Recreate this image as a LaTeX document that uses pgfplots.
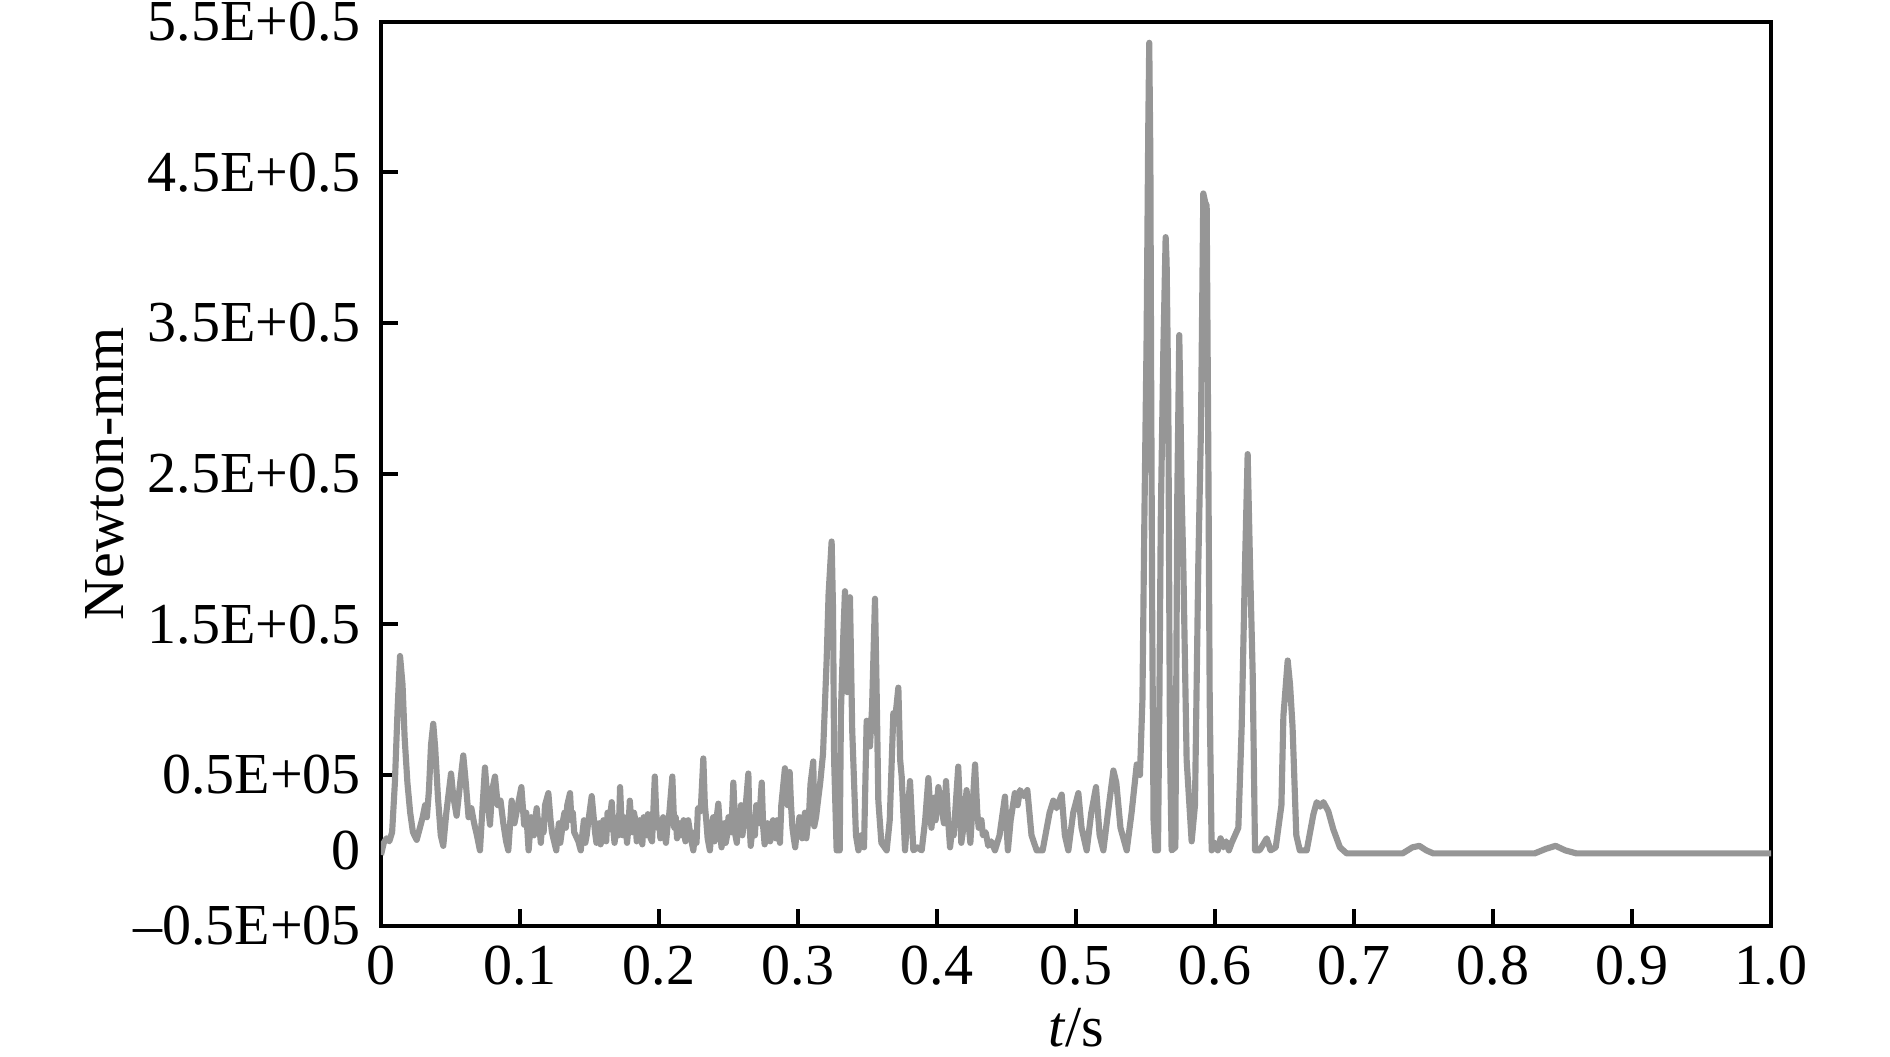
\documentclass[border=0pt]{standalone}
\usepackage{fontspec}
\setmainfont{Liberation Serif}
\usepackage{pgfplots}
\pgfplotsset{compat=1.18}

\definecolor{sig}{RGB}{150,150,150}

\begin{document}
\fontsize{16.5}{19}\selectfont
\begin{tikzpicture}
% page = 1890 x 1056 px at 0.01 cm per px, axis box starts at origin
\path[use as bounding box] (-3.81cm,-1.303cm) rectangle (15.09cm,9.257cm);
\begin{axis}[
  width=13.9cm, height=9.04cm, scale only axis,
  xmin=0, xmax=1, ymin=-0.5, ymax=5.5,
  axis line style={line width=1.1pt},
  tick style={line width=1.1pt, black},
  tick align=inside, tick pos=left,
  major tick length=0.17cm,
  xtick={0,0.1,0.2,0.3,0.4,0.5,0.6,0.7,0.8,0.9,1.0},
  xticklabels={0,0.1,0.2,0.3,0.4,0.5,0.6,0.7,0.8,0.9,1.0},
  ytick={-0.5,0.5,1.5,2.5,3.5,4.5,5.5},
  yticklabels={--0.5E+05,0.5E+05,1.5E+0.5,2.5E+0.5,3.5E+0.5,4.5E+0.5,5.5E+0.5},
  extra y ticks={0},
  extra y tick labels={0},
  extra y tick style={major tick length=0pt},
  xlabel={\textit{t}/s},
  ylabel={Newton-mm},
  xlabel style={at={(axis description cs:0.5,-0.113)}, anchor=center},
  ylabel style={at={(axis description cs:-0.1986,0.5)}, anchor=center},
]
\addplot[sig, line width=1.75pt, line join=round] coordinates {
(0.000,-0.03) (0.002,0.05) (0.004,0.08) (0.006,0.06) (0.008,0.12)
(0.010,0.45) (0.012,0.95) (0.0137,1.29) (0.0155,1.10) (0.017,0.75)
(0.019,0.45) (0.021,0.25) (0.023,0.12) (0.0257,0.07) (0.028,0.15)
(0.030,0.22) (0.0317,0.30) (0.033,0.22) (0.0345,0.40) (0.036,0.70)
(0.0376,0.84) (0.039,0.68) (0.041,0.35) (0.043,0.10) (0.0448,0.03)
(0.047,0.25) (0.0504,0.51) (0.052,0.36) (0.0544,0.23) (0.057,0.45)
(0.0592,0.63) (0.061,0.45) (0.063,0.22) (0.065,0.28) (0.067,0.18)
(0.069,0.10) (0.0712,0.00) (0.073,0.28) (0.0748,0.55) (0.0765,0.35)
(0.0784,0.17) (0.080,0.40) (0.082,0.49) (0.084,0.30) (0.086,0.33)
(0.088,0.18) (0.090,0.06) (0.0916,0.00) (0.094,0.33) (0.096,0.18)
(0.0985,0.30) (0.101,0.42) (0.103,0.17) (0.1045,0.25) (0.1062,0.00)
(0.108,0.22) (0.109,0.12) (0.110,0.10) (0.111,0.20) (0.112,0.28)
(0.113,0.18) (0.114,0.15) (0.115,0.05) (0.116,0.20) (0.117,0.12)
(0.118,0.30) (0.1204,0.38) (0.122,0.20) (0.123,0.12) (0.124,0.08)
(0.1261,0.00) (0.127,0.10) (0.128,0.18) (0.129,0.05) (0.130,0.12)
(0.131,0.20) (0.132,0.25) (0.133,0.15) (0.134,0.30) (0.136,0.38)
(0.137,0.20) (0.138,0.25) (0.139,0.12) (0.140,0.10) (0.142,0.06)
(0.1437,0.00) (0.145,0.12) (0.146,0.20) (0.147,0.05) (0.148,0.10)
(0.149,0.18) (0.150,0.25) (0.1516,0.36) (0.153,0.22) (0.154,0.12)
(0.155,0.05) (0.156,0.14) (0.157,0.18) (0.158,0.04) (0.159,0.08)
(0.160,0.20) (0.161,0.15) (0.162,0.06) (0.163,0.25) (0.164,0.14)
(0.166,0.32) (0.167,0.15) (0.168,0.05) (0.169,0.12) (0.170,0.22)
(0.171,0.10) (0.172,0.42) (0.173,0.20) (0.174,0.10) (0.175,0.22)
(0.176,0.18) (0.177,0.05) (0.178,0.15) (0.179,0.33) (0.180,0.20)
(0.181,0.12) (0.182,0.25) (0.183,0.20) (0.184,0.06) (0.185,0.08)
(0.186,0.20) (0.187,0.14) (0.188,0.04) (0.189,0.22) (0.190,0.15)
(0.191,0.10) (0.192,0.24) (0.193,0.18) (0.194,0.08) (0.195,0.06)
(0.197,0.49) (0.198,0.25) (0.199,0.15) (0.200,0.20) (0.201,0.08)
(0.202,0.15) (0.203,0.22) (0.204,0.12) (0.205,0.05) (0.206,0.15)
(0.207,0.20) (0.2096,0.49) (0.211,0.15) (0.212,0.22) (0.213,0.08)
(0.2145,0.18) (0.216,0.10) (0.2177,0.20) (0.219,0.06) (0.220,0.15)
(0.221,0.20) (0.223,0.08) (0.2247,0.00) (0.226,0.12) (0.227,0.05)
(0.228,0.28) (0.230,0.26) (0.2319,0.61) (0.233,0.30) (0.234,0.20)
(0.235,0.08) (0.2366,0.00) (0.238,0.15) (0.239,0.22) (0.240,0.06)
(0.241,0.18) (0.2427,0.31) (0.244,0.12) (0.245,0.02) (0.246,0.10)
(0.247,0.18) (0.248,0.05) (0.249,0.10) (0.250,0.22) (0.251,0.20)
(0.252,0.12) (0.2535,0.45) (0.255,0.10) (0.256,0.05) (0.257,0.25)
(0.258,0.15) (0.259,0.30) (0.260,0.10) (0.261,0.18) (0.262,0.25)
(0.2643,0.51) (0.265,0.20) (0.266,0.03) (0.267,0.12) (0.268,0.22)
(0.269,0.10) (0.270,0.30) (0.271,0.20) (0.272,0.18) (0.2739,0.45)
(0.275,0.15) (0.276,0.04) (0.277,0.10) (0.278,0.18) (0.279,0.12)
(0.280,0.06) (0.281,0.15) (0.282,0.20) (0.283,0.10) (0.284,0.08)
(0.285,0.20) (0.286,0.15) (0.287,0.05) (0.288,0.30) (0.2906,0.545)
(0.2925,0.30) (0.294,0.52) (0.295,0.30) (0.296,0.15) (0.297,0.08)
(0.298,0.02) (0.299,0.12) (0.300,0.10) (0.301,0.22) (0.302,0.20)
(0.303,0.08) (0.304,0.15) (0.305,0.25) (0.306,0.08) (0.308,0.25)
(0.309,0.44) (0.311,0.59) (0.3117,0.16) (0.313,0.22) (0.314,0.30)
(0.316,0.45) (0.318,0.64) (0.3206,1.26) (0.322,1.70) (0.3242,2.05)
(0.3252,1.60) (0.326,0.60) (0.3278,0.00) (0.3300,0.00) (0.3309,0.92)
(0.3325,1.40) (0.3338,1.72) (0.3355,1.05) (0.3374,1.68) (0.339,0.80)
(0.3417,0.10) (0.3435,0.00) (0.3455,0.10) (0.3475,0.02) (0.3494,0.86)
(0.3518,0.69) (0.3533,0.95) (0.3554,1.67) (0.3565,1.10) (0.3578,0.33)
(0.360,0.05) (0.3638,0.00) (0.366,0.20) (0.3686,0.91) (0.370,0.88)
(0.3722,1.08) (0.3735,0.60) (0.3746,0.49) (0.377,0.00) (0.3806,0.46)
(0.383,0.00) (0.386,0.02) (0.389,0.00) (0.3915,0.20) (0.3938,0.48)
(0.396,0.15) (0.398,0.35) (0.399,0.20) (0.401,0.42) (0.403,0.30)
(0.405,0.18) (0.4065,0.46) (0.408,0.20) (0.4094,0.02) (0.411,0.15)
(0.412,0.10) (0.4153,0.556) (0.4175,0.05) (0.419,0.15) (0.4213,0.40)
(0.423,0.15) (0.424,0.05) (0.4274,0.57) (0.429,0.25) (0.430,0.15)
(0.432,0.20) (0.433,0.10) (0.435,0.12) (0.4369,0.03) (0.439,0.06)
(0.4417,0.00) (0.445,0.10) (0.4489,0.357) (0.451,0.00) (0.453,0.20)
(0.456,0.38) (0.458,0.30) (0.4597,0.40) (0.4625,0.36) (0.465,0.40)
(0.468,0.10) (0.4717,0.00) (0.476,0.00) (0.479,0.15) (0.481,0.25)
(0.4837,0.33) (0.486,0.28) (0.4897,0.37) (0.492,0.10) (0.4945,0.00)
(0.498,0.25) (0.5017,0.38) (0.504,0.15) (0.5077,0.00) (0.511,0.25)
(0.5144,0.42) (0.517,0.10) (0.5197,0.00) (0.523,0.25) (0.5269,0.53)
(0.529,0.45) (0.532,0.15) (0.5365,0.00) (0.540,0.25) (0.5437,0.57)
(0.546,0.50) (0.5478,1.00) (0.5492,2.20) (0.5508,3.40) (0.5520,4.80)
(0.5527,5.36) (0.5535,4.60) (0.5540,3.30) (0.5548,1.60) (0.5558,0.20)
(0.5570,0.00) (0.5590,0.00) (0.5600,1.00) (0.5610,2.20) (0.5628,3.30)
(0.5645,4.07) (0.5652,3.90) (0.5664,3.00) (0.5676,0.70) (0.5688,0.00)
(0.5715,0.02) (0.5729,2.37) (0.5743,3.42) (0.5752,2.90) (0.5760,2.37)
(0.5772,1.90) (0.5796,0.60) (0.5832,0.06) (0.5856,0.30) (0.5880,1.90)
(0.5899,2.80) (0.5916,4.36) (0.5930,4.30) (0.5940,4.28) (0.5952,2.63)
(0.5962,1.00) (0.5976,0.00) (0.600,0.05) (0.602,0.00) (0.604,0.08)
(0.606,0.02) (0.608,0.06) (0.610,0.00) (0.612,0.05) (0.6144,0.10)
(0.6168,0.15) (0.6192,0.82) (0.6216,1.90) (0.6235,2.63) (0.6252,1.90)
(0.6271,1.18) (0.6288,0.00) (0.632,0.00) (0.634,0.03) (0.6372,0.08)
(0.640,0.00) (0.6437,0.02) (0.6478,0.30) (0.6492,0.89) (0.6523,1.26)
(0.6540,1.10) (0.6558,0.82) (0.6585,0.10) (0.6610,0.00) (0.6660,0.00)
(0.6708,0.24) (0.6732,0.32) (0.6756,0.29) (0.678,0.32) (0.6815,0.26)
(0.6851,0.14) (0.6899,0.02) (0.6947,-0.02) (0.735,-0.02) (0.742,0.02)
(0.747,0.03) (0.752,0.00) (0.757,-0.02) (0.830,-0.02) (0.838,0.01)
(0.845,0.03) (0.852,0.00) (0.860,-0.02) (1.000,-0.02)
};
\end{axis}
\end{tikzpicture}
\end{document}
